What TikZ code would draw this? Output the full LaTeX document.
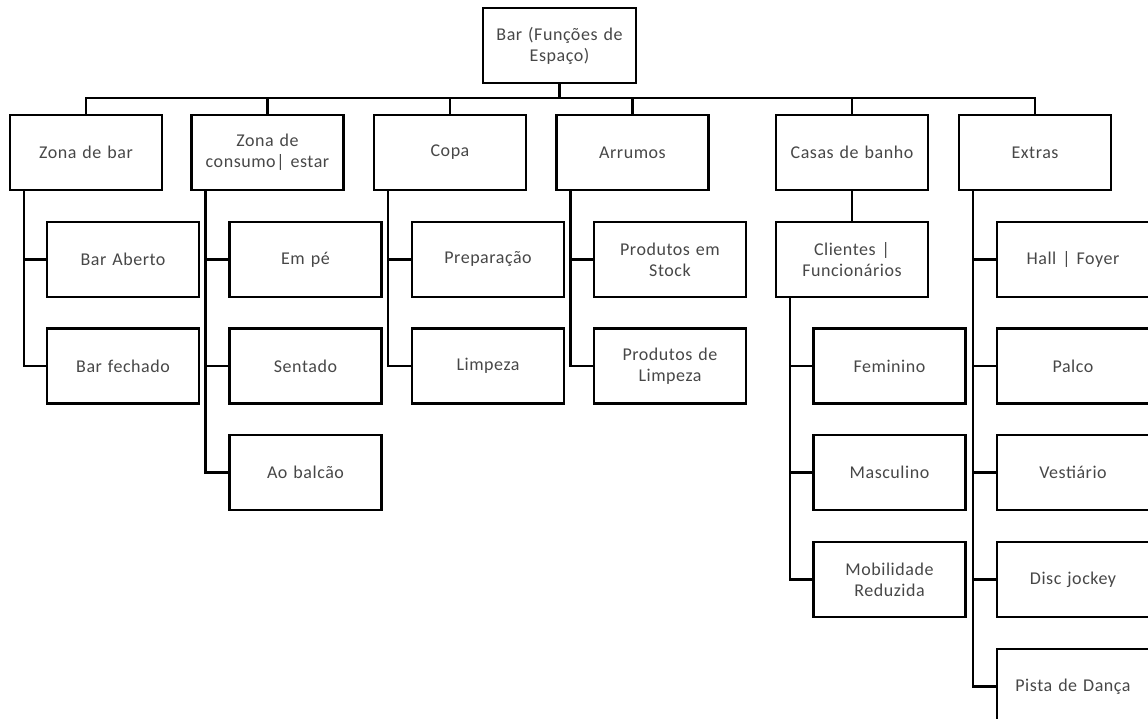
\documentclass[tikz,border=0pt]{standalone}
\usepackage{fontspec}
\setmainfont{Carlito}[LetterSpace=3]
\tikzset{
  boite/.style={draw, line width=2.4pt, minimum width=152pt, minimum height=75pt,
    inner sep=0pt, align=center, text width=148pt, text=black!72,
    font=\fontsize{18}{21}\selectfont},
  lien/.style={line width=2.4pt}
}
\begin{document}
\begin{tikzpicture}[x=1pt,y=-1pt]
\useasboundingbox (0,0) rectangle (1148,719);
% racine
\node[boite,minimum width=153pt] (bar) at (559.5,45.5) {Bar (Funções de\\Espaço)};
\coordinate (bus) at (559.5,98);
% niveau 1
\node[boite] (zbar) at (86,152.5) {Zona de bar};
\node[boite] (consumo) at (267.5,152.5) {Zona de\\consumo| estar};
\node[boite] (copa) at (450,152.5) {Copa};
\node[boite] (arrumos) at (632.5,152.5) {Arrumos};
\node[boite] (casas) at (852,152.5) {Casas de banho};
\node[boite] (extras) at (1035,152.5) {Extras};
% niveau 2
\node[boite] (aberto) at (123,259.5) {Bar Aberto};
\node[boite] (fechado) at (123,366) {Bar fechado};
\node[boite] (empe) at (305.5,259.5) {Em pé};
\node[boite] (sentado) at (305.5,366) {Sentado};
\node[boite] (balcao) at (305.5,472.5) {Ao balcão};
\node[boite] (prep) at (488,259.5) {Preparação};
\node[boite] (limpeza) at (488,366) {Limpeza};
\node[boite] (stock) at (670,259.5) {Produtos em\\Stock};
\node[boite] (plimpeza) at (670,366) {Produtos de\\Limpeza};
\node[boite] (clientes) at (852,259.5) {Clientes |\\Funcionários};
\node[boite] (feminino) at (889.5,366) {Feminino};
\node[boite] (masculino) at (889.5,472.5) {Masculino};
\node[boite] (mobilidade) at (889.5,579.5) {Mobilidade\\Reduzida};
\node[boite] (hall) at (1073,259.5) {Hall | Foyer};
\node[boite] (palco) at (1073,366) {Palco};
\node[boite] (vestiario) at (1073,472.5) {Vestiário};
\node[boite] (disc) at (1073,579.5) {Disc jockey};
\node[boite] (pista) at (1073,686.5) {Pista de Dança};
% liens
\draw[lien] (bar.south) -- (bus);
\foreach \n in {zbar,consumo,copa,arrumos,casas,extras}
  \draw[lien] (bus) -| (\n.north);
\draw[lien] (casas.south) -- (clientes.north);
\foreach \p/\e in {zbar/aberto,zbar/fechado,consumo/empe,consumo/sentado,consumo/balcao,
    copa/prep,copa/limpeza,arrumos/stock,arrumos/plimpeza,
    clientes/feminino,clientes/masculino,clientes/mobilidade,
    extras/hall,extras/palco,extras/vestiario,extras/disc,extras/pista}
  \draw[lien] ([xshift=15pt]\p.south west) |- (\e.west);
\end{tikzpicture}
\end{document}
